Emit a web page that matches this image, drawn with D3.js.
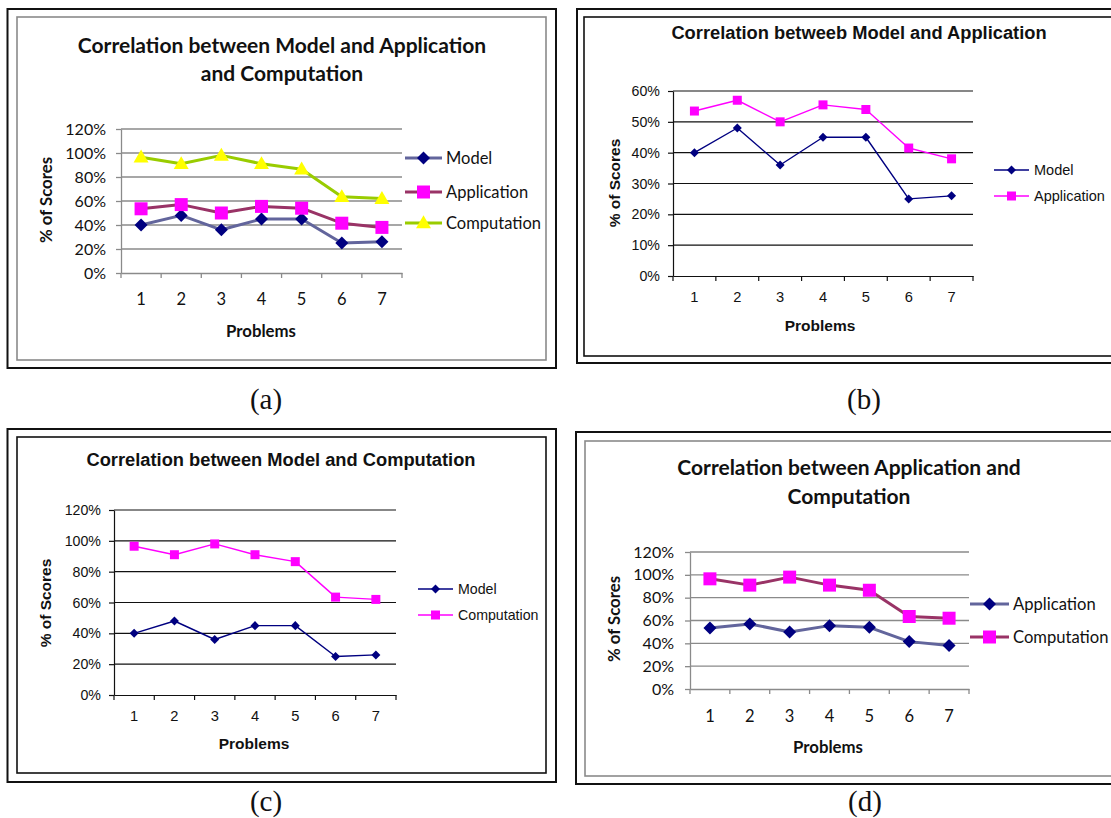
<!DOCTYPE html>
<html><head><meta charset="utf-8">
<script src="https://cdn.jsdelivr.net/npm/d3@7"></script>
<style>body{margin:0;background:#fff}</style>
</head><body>
<svg id="c" width="1111" height="818" xmlns="http://www.w3.org/2000/svg"></svg>
<script>
// ---- data ----
const problems = ["1", "2", "3", "4", "5", "6", "7"];
const model = [0.40, 0.48, 0.36, 0.45, 0.45, 0.25, 0.26];
const application = [0.535, 0.57, 0.50, 0.555, 0.54, 0.415, 0.38];
const computation = [0.965, 0.91, 0.98, 0.91, 0.865, 0.635, 0.62];
const ticks120 = [0, 0.2, 0.4, 0.6, 0.8, 1.0, 1.2];
const ticks60 = [0, 0.1, 0.2, 0.3, 0.4, 0.5, 0.6];
const captionLabels = ["(a)", "(b)", "(c)", "(d)"];
const titleA = ["Correlation between Model and Application", "and Computation"];
const titleB = ["Correlation betweeb Model and Application"];
const titleC = ["Correlation between Model and Computation"];
const titleD = ["Correlation between Application and", "Computation"];
const yLabel = "% of Scores";
const xLabel = "Problems";

// ---- styles ----
const S07 = {
  font: "Lato, 'Open Sans', sans-serif", grid: "#8a8a8a", axis: "#8a8a8a", gridW: 1.3, lineW: 3,
  titleSize: 21, tickSize: 16, labSize: 16.8, inner: "#8a8a8a"
};
const S03 = {
  font: "'Liberation Sans', Arial, sans-serif", grid: "#111", axis: "#111", gridW: 1.2, lineW: 1.4,
  titleSize: 18.3, tickSize: 14.2, labSize: 15.5, inner: "#111"
};
const blueGray = { line: "#62659c", fill: "#000080", shape: "diamond" };
const maroon = { line: "#993366", fill: "#ff00ff", shape: "square" };
const lime = { line: "#99cc00", fill: "#ffff00", shape: "triangle" };
const navy03 = { line: "#000080", fill: "#000080", shape: "diamond" };
const mag03 = { line: "#ff00ff", fill: "#ff00ff", shape: "square" };

const panels = [
  {
    st: S07, title: titleA, titleX: 282, titleY: [53, 81],
    outer: [7.5, 9, 556, 368], inner: [17, 17, 546, 360],
    px: [121, 402], py: [129, 273], yMax: 1.2, ticks: ticks120, tickRight: 106,
    yLab: [46, 200], xTickY: 305, xLabY: 337, xLabX: 261, mk: 13,
    series: [
      { name: "Model", values: model, style: blueGray },
      { name: "Application", values: application, style: maroon },
      { name: "Computation", values: computation, style: lime }
    ],
    leg: { x0: 405, x1: 442, tx: 446, ys: [158, 192, 223], size: 16.5 },
    cap: [266, 409]
  },
  {
    st: S03, title: titleB, titleX: 859, titleY: [39],
    outer: [577, 9, 1120, 363], inner: [584, 17, 1116, 356],
    px: [673, 973], py: [91, 276], yMax: 0.6, ticks: ticks60, tickRight: 660,
    yLab: [615, 183], xTickY: 302, xLabY: 331, xLabX: 820, mk: 9,
    series: [
      { name: "Model", values: model, style: navy03 },
      { name: "Application", values: application, style: mag03 }
    ],
    leg: { x0: 994, x1: 1029, tx: 1034, ys: [170, 196], size: 14.5 },
    cap: [864, 409]
  },
  {
    st: S03, title: titleC, titleX: 281, titleY: [466],
    outer: [7.5, 429, 556, 782], inner: [17, 437, 546, 773],
    px: [114, 396], py: [510, 695], yMax: 1.2, ticks: ticks120, tickRight: 101,
    yLab: [46, 603], xTickY: 721, xLabY: 749, xLabX: 254, mk: 9,
    series: [
      { name: "Model", values: model, style: navy03 },
      { name: "Computation", values: computation, style: mag03 }
    ],
    leg: { x0: 418, x1: 453, tx: 458, ys: [589, 615], size: 14.2 },
    cap: [266, 811]
  },
  {
    st: S07, title: titleD, titleX: 849, titleY: [475, 504],
    outer: [576, 432, 1120, 784], inner: [585, 441, 1116, 776],
    px: [690, 969], py: [552, 689], yMax: 1.2, ticks: ticks120, tickRight: 674,
    yLab: [614, 619], xTickY: 722, xLabY: 753, xLabX: 828, mk: 13,
    series: [
      { name: "Application", values: application, style: blueGray },
      { name: "Computation", values: computation, style: maroon }
    ],
    leg: { x0: 970, x1: 1009, tx: 1013, ys: [604, 637], size: 16.6 },
    cap: [865, 811]
  }
];

const svg = d3.select("#c");
svg.append("rect").attr("width", 1111).attr("height", 818).attr("fill", "#fff");

function marker(sel, shape, size, fill) {
  let path;
  if (shape === "diamond") {
    path = d3.symbol(d3.symbolSquare, size * size / 2)();
    sel.append("path").attr("d", path).attr("transform", "rotate(45)").attr("fill", fill);
  } else if (shape === "square") {
    path = d3.symbol(d3.symbolSquare, size * size)();
    sel.append("path").attr("d", path).attr("fill", fill);
  } else {
    const s = size * 1.15;
    path = d3.symbol(d3.symbolTriangle, s * s * Math.sqrt(3) / 4)();
    sel.append("path").attr("d", path).attr("transform", "translate(0,1)").attr("fill", fill);
  }
}

panels.forEach((p, pi) => {
  const st = p.st;
  const g = svg.append("g");
  // frames
  const o = p.outer, n = p.inner;
  g.append("rect").attr("x", o[0]).attr("y", o[1]).attr("width", o[2] - o[0]).attr("height", o[3] - o[1])
    .attr("fill", "none").attr("stroke", "#111").attr("stroke-width", 2);
  g.append("rect").attr("x", n[0]).attr("y", n[1]).attr("width", n[2] - n[0]).attr("height", n[3] - n[1])
    .attr("fill", "none").attr("stroke", st.inner).attr("stroke-width", 1.6);

  const x = d3.scaleBand().domain(problems).range(p.px);
  const y = d3.scaleLinear().domain([0, p.yMax]).range([p.py[1], p.py[0]]);

  // gridlines
  g.append("g").selectAll("line").data(p.ticks.slice(1)).join("line")
    .attr("x1", p.px[0]).attr("x2", p.px[1])
    .attr("y1", d => y(d)).attr("y2", d => y(d))
    .attr("stroke", st.grid).attr("stroke-width", st.gridW);

  // y axis
  const tickLen = 5;
  const ya = g.append("g").attr("transform", `translate(${p.px[0]},0)`)
    .call(d3.axisLeft(y).tickValues(p.ticks).tickFormat(d3.format(".0%"))
      .tickSize(tickLen).tickSizeOuter(0).tickPadding(p.px[0] - p.tickRight - tickLen));
  ya.select(".domain").attr("stroke", st.axis).attr("stroke-width", st.gridW);
  ya.selectAll(".tick line").attr("stroke", st.axis).attr("stroke-width", st.gridW);
  ya.selectAll(".tick text").attr("font-family", st.font).attr("font-size", st.tickSize).attr("fill", "#111");

  // x axis (labels at band centers)
  const xa = g.append("g").attr("transform", `translate(0,${p.py[1]})`)
    .call(d3.axisBottom(x).tickSize(0).tickPadding(0));
  xa.select(".domain").attr("stroke", st.axis).attr("stroke-width", st.gridW);
  xa.selectAll(".tick text").attr("font-family", st.font).attr("font-size", st.tickSize + 0.5)
    .attr("fill", "#111").attr("dy", null).attr("y", p.xTickY - p.py[1]);
  // boundary tick marks
  const bounds = problems.map(d => x(d)).concat([x(problems[problems.length - 1]) + x.bandwidth()]);
  g.append("g").selectAll("line").data(bounds).join("line")
    .attr("x1", d => d).attr("x2", d => d).attr("y1", p.py[1]).attr("y2", p.py[1] + 5)
    .attr("stroke", st.axis).attr("stroke-width", st.gridW);

  // title
  p.title.forEach((t, i) => {
    g.append("text").attr("x", p.titleX).attr("y", p.titleY[i]).attr("text-anchor", "middle")
      .attr("font-family", st.font).attr("font-weight", "bold").attr("font-size", st.titleSize)
      .attr("fill", "#111").text(t);
  });
  // axis labels
  g.append("text").attr("transform", `translate(${p.yLab[0]},${p.yLab[1]}) rotate(-90)`)
    .attr("text-anchor", "middle").attr("dy", "0.35em")
    .attr("font-family", st.font).attr("font-weight", "bold").attr("font-size", st.labSize)
    .attr("fill", "#111").text(yLabel);
  g.append("text").attr("x", p.xLabX).attr("y", p.xLabY).attr("text-anchor", "middle")
    .attr("font-family", st.font).attr("font-weight", "bold").attr("font-size", st.labSize)
    .attr("fill", "#111").text(xLabel);

  // series
  const line = d3.line().x((d, i) => x(problems[i]) + x.bandwidth() / 2).y(d => y(d));
  p.series.forEach(s => {
    g.append("path").datum(s.values).attr("d", line).attr("fill", "none")
      .attr("stroke", s.style.line).attr("stroke-width", st.lineW).attr("stroke-linejoin", "round");
  });
  p.series.forEach(s => {
    s.values.forEach((v, i) => {
      const m = g.append("g").attr("transform", `translate(${x(problems[i]) + x.bandwidth() / 2},${y(v)})`);
      marker(m, s.style.shape, p.mk, s.style.fill);
    });
  });

  // legend
  p.series.forEach((s, i) => {
    const ly = p.leg.ys[i];
    g.append("line").attr("x1", p.leg.x0).attr("x2", p.leg.x1).attr("y1", ly).attr("y2", ly)
      .attr("stroke", s.style.line).attr("stroke-width", st.lineW);
    const m = g.append("g").attr("transform", `translate(${(p.leg.x0 + p.leg.x1) / 2},${ly})`);
    marker(m, s.style.shape, p.mk, s.style.fill);
    g.append("text").attr("x", p.leg.tx).attr("y", ly).attr("dy", "0.35em")
      .attr("font-family", st.font).attr("font-size", p.leg.size).attr("fill", "#111").text(s.name);
  });

  // caption
  svg.append("text").attr("x", p.cap[0]).attr("y", p.cap[1]).attr("text-anchor", "middle")
    .attr("font-family", "'Liberation Serif', 'Times New Roman', serif").attr("font-size", 29)
    .attr("fill", "#111").text(captionLabels[pi]);
});
</script>
</body></html>
